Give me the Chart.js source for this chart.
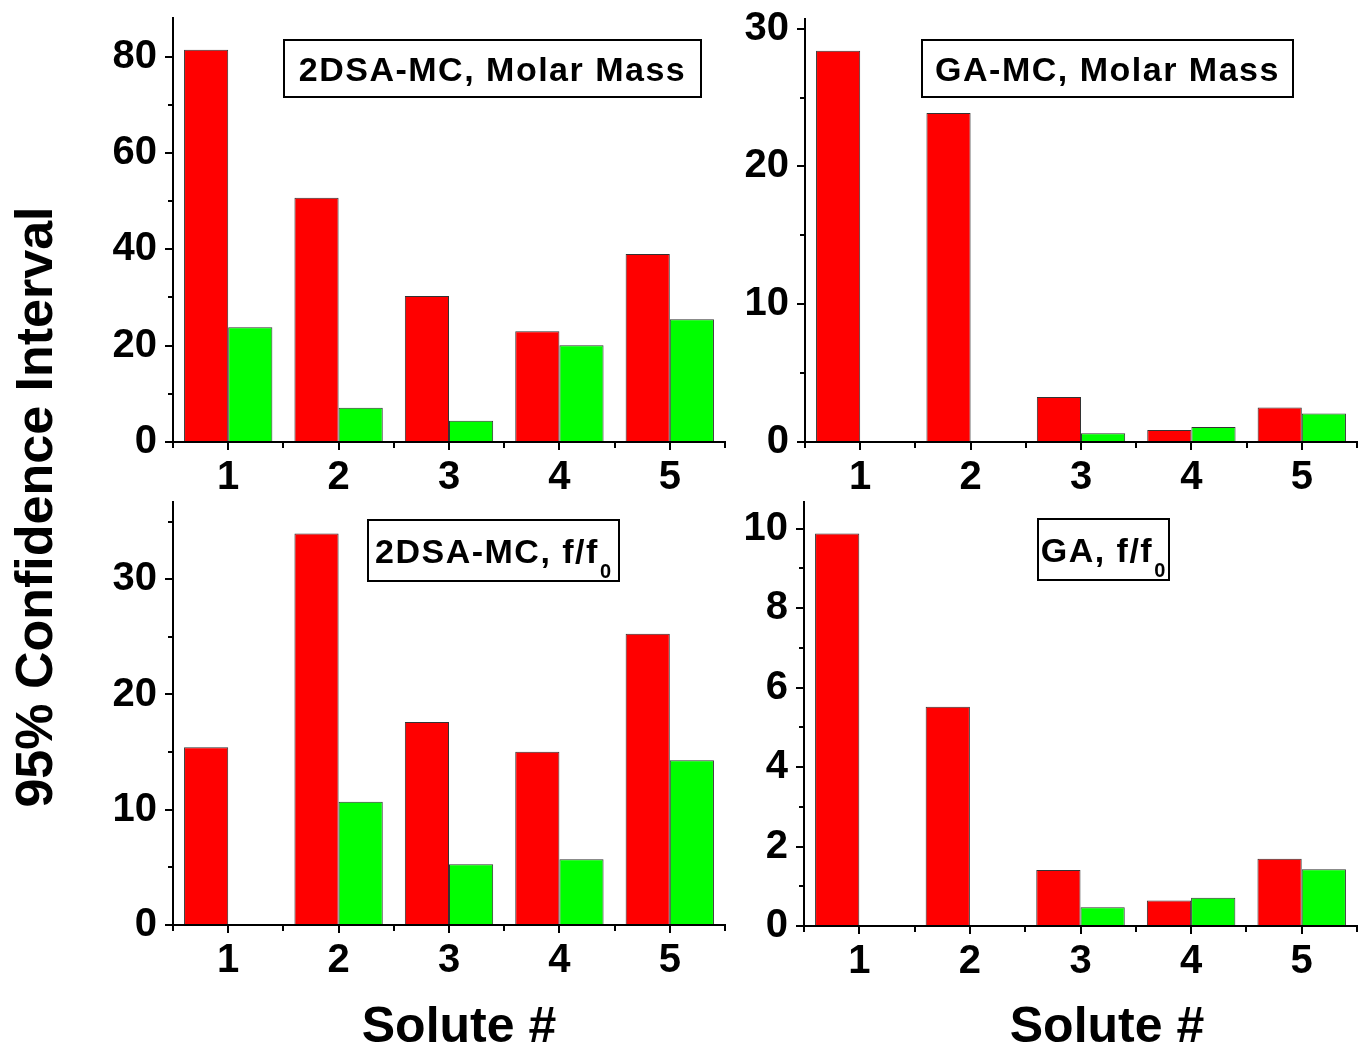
<!DOCTYPE html>
<html>
<head>
<meta charset="utf-8">
<script src="https://cdn.jsdelivr.net/npm/chart.js@4"></script>
<style>
  body { margin: 0; background: #fff; }
  #wrap { position: relative; width: 1368px; height: 1051px; overflow: hidden; font-family: "Liberation Sans", Arial, sans-serif; }
  canvas { position: absolute; }
  .xtitle { position: absolute; width: 400px; text-align: center; font-weight: bold; font-size: 50px; line-height: 50px; top: 1000px; }
  #ytitle { position: absolute; width: 700px; height: 52px; left: -316px; top: 481px; text-align: center;
            font-weight: bold; font-size: 52px; line-height: 52px; transform: rotate(-90deg); }
</style>
</head>
<body>
<div id="wrap">
  <canvas id="c1"></canvas>
  <canvas id="c2"></canvas>
  <canvas id="c3"></canvas>
  <canvas id="c4"></canvas>
  <div id="ytitle">95% Confidence Interval</div>
  <div class="xtitle" style="left:259px">Solute #</div>
  <div class="xtitle" style="left:907px">Solute #</div>
</div>
<script>
// data
const solutes = ["1", "2", "3", "4", "5"];

const molar2dsaRed   = [81.4, 50.7, 30.3, 23.0, 39.0];
const molar2dsaGreen = [23.8, 7.1, 4.4, 20.1, 25.5];

const molarGaRed   = [28.4, 23.87, 3.27, 0.87, 2.5];
const molarGaGreen = [0, 0, 0.63, 1.09, 2.06];

const ff2dsaRed   = [15.42, 33.97, 17.62, 15.04, 25.28];
const ff2dsaGreen = [0, 10.7, 5.28, 5.71, 14.29];

const ffGaRed   = [9.88, 5.52, 1.41, 0.64, 1.69];
const ffGaGreen = [0, 0, 0.47, 0.71, 1.43];

const RED = "#ff0000", GREEN = "#00ff00";
const Y_W = 110, X_H = 60, PAD_T = 40, PAD_R = 12;

// minor ticks + label box
const extras = {
    id: "extras",
    afterDraw(chart, args, o) {
        const ctx = chart.ctx, xs = chart.scales.x, ys = chart.scales.y;
        ctx.save();
        ctx.strokeStyle = "#000";
        ctx.lineWidth = 2;
        ctx.beginPath();
        for (let v = o.step / 2; v < ys.max; v += o.step) {
            const py = Math.round(ys.getPixelForValue(v));
            ctx.moveTo(ys.right, py);
            ctx.lineTo(ys.right - 5, py);
        }
        for (let i = 0; i <= solutes.length; i++) {
            const px = Math.round(xs.getPixelForValue(i - 0.5));
            ctx.moveTo(px, xs.top);
            ctx.lineTo(px, xs.top + 6);
        }
        ctx.stroke();

        // annotation box
        const b = o.box;
        ctx.fillStyle = "#fff";
        ctx.fillRect(b.x, b.y, b.w, b.h);
        ctx.strokeRect(b.x, b.y, b.w, b.h);
        ctx.fillStyle = "#000";
        ctx.textBaseline = "alphabetic";
        const mainFont = "bold 34px 'Liberation Sans', Arial, sans-serif";
        const subFont = "bold 20px 'Liberation Sans', Arial, sans-serif";
        ctx.font = mainFont;
        ctx.letterSpacing = "1.5px";
        const mainW = ctx.measureText(b.text).width;
        let subW = 0;
        if (b.sub) {
            ctx.font = subFont;
            ctx.letterSpacing = "0px";
            subW = ctx.measureText(b.sub).width + 2;
        }
        const x0 = b.x + (b.w - mainW - subW) / 2;
        const base = b.y + b.h / 2 + 12;
        ctx.font = mainFont;
        ctx.letterSpacing = "1.5px";
        ctx.fillText(b.text, x0, base);
        if (b.sub) {
            ctx.font = subFont;
            ctx.letterSpacing = "0px";
            ctx.fillText(b.sub, x0 + mainW + 1, base + 15);
        }
        ctx.restore();
    }
};

function panel(id, area, red, green, yMax, step, box) {
    const cv = document.getElementById(id);
    const left = area.l - Y_W, top = area.t - PAD_T;
    cv.width = area.r - area.l + Y_W + PAD_R;
    cv.height = area.b - area.t + PAD_T + X_H;
    cv.style.left = left + "px";
    cv.style.top = top + "px";

    const tickFont = { family: "'Liberation Sans', Arial, sans-serif", size: 40, weight: "bold" };
    new Chart(cv, {
        type: "bar",
        data: {
            labels: solutes,
            datasets: [
                { data: red, backgroundColor: RED, borderColor: "#333", borderWidth: 1 },
                { data: green, backgroundColor: GREEN, borderColor: "#333", borderWidth: 1 }
            ]
        },
        options: {
            responsive: false,
            animation: false,
            devicePixelRatio: 1,
            layout: { padding: { top: PAD_T, right: PAD_R, left: 0, bottom: 0 } },
            plugins: {
                legend: { display: false },
                tooltip: { enabled: false },
                extras: {
                    step: step,
                    box: { x: box.x - left, y: box.y - top, w: box.w, h: box.h, text: box.text, sub: box.sub }
                }
            },
            datasets: { bar: { barPercentage: 1, categoryPercentage: 0.8 } },
            scales: {
                x: {
                    offset: true,
                    grid: { display: true, drawOnChartArea: false, offset: false, tickLength: 8, lineWidth: 2, color: "#000" },
                    border: { display: true, color: "#000", width: 2 },
                    ticks: { color: "#000", font: tickFont, padding: 4, maxRotation: 0 },
                    afterFit: s => { s.height = X_H; }
                },
                y: {
                    min: 0,
                    max: yMax,
                    grid: { display: true, drawOnChartArea: false, tickLength: 8, lineWidth: 2, color: "#000" },
                    border: { display: true, color: "#000", width: 2 },
                    ticks: { color: "#000", font: tickFont, padding: 8, stepSize: step, includeBounds: false, autoSkip: false },
                    afterBuildTicks: s => { s.ticks = s.ticks.filter(t => Math.abs(t.value / step - Math.round(t.value / step)) < 1e-6); },
                    afterFit: s => { s.width = Y_W; }
                }
            }
        },
        plugins: [extras]
    });
}

panel("c1", { l: 173, t: 18, r: 725, b: 442 }, molar2dsaRed, molar2dsaGreen, 88, 20,
      { x: 284, y: 40, w: 417, h: 57, text: "2DSA-MC, Molar Mass" });
panel("c2", { l: 805, t: 19, r: 1357, b: 442 }, molarGaRed, molarGaGreen, 30.7, 10,
      { x: 922, y: 40, w: 371, h: 57, text: "GA-MC, Molar Mass" });
panel("c3", { l: 173, t: 502, r: 725, b: 925 }, ff2dsaRed, ff2dsaGreen, 36.7, 10,
      { x: 368, y: 520, w: 251, h: 61, text: "2DSA-MC, f/f", sub: "0" });
panel("c4", { l: 804, t: 502, r: 1357, b: 926 }, ffGaRed, ffGaGreen, 10.67, 2,
      { x: 1038, y: 519, w: 131, h: 61, text: "GA, f/f", sub: "0" });
</script>
</body>
</html>
